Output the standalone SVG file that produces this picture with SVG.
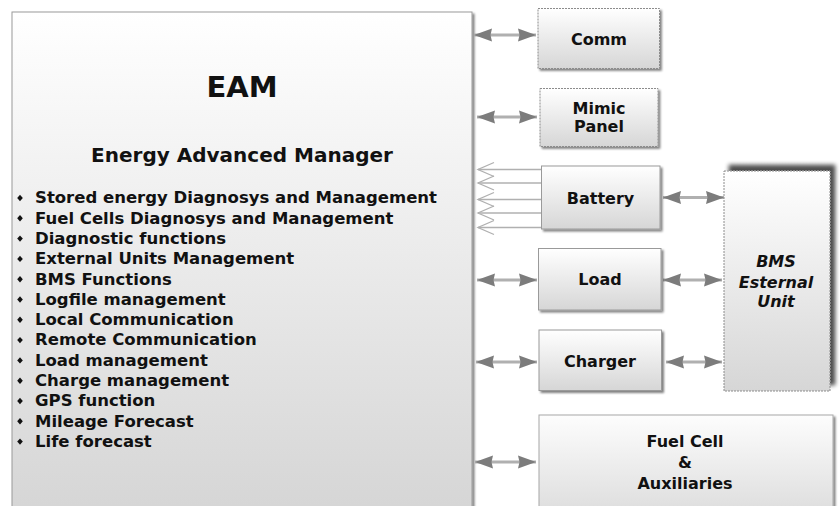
<svg xmlns="http://www.w3.org/2000/svg" width="840" height="506" viewBox="0 0 840 506">
  <defs>
    <style>
      text { font-family: "DejaVu Sans", Verdana, "Liberation Sans", sans-serif; font-weight: bold; fill: #111; }
      .title { font-size: 29px; text-anchor: middle; }
      .subtitle { font-size: 20px; text-anchor: middle; }
      .item { font-size: 16.5px; }
      .label { font-size: 16px; text-anchor: middle; }
      .italic { font-style: italic; }
      .box { fill: url(#boxFill); stroke: #9a9a9a; stroke-width: 1; }
      .dashed { stroke-dasharray: 2 1; stroke: #8c8c8c; }
      .link { stroke: #b0b0b0; stroke-width: 3; fill: none; marker-start: url(#head); marker-end: url(#head); }
      .bus { stroke: #b0b0b0; stroke-width: 1.3; fill: none; }
    </style>
    <linearGradient id="boxFill" x1="0" y1="0" x2="0" y2="1">
      <stop offset="0" stop-color="#ffffff"/>
      <stop offset="1" stop-color="#d6d6d6"/>
    </linearGradient>
    <linearGradient id="eamFill" gradientUnits="userSpaceOnUse" x1="0" y1="12" x2="0" y2="506">
      <stop offset="0" stop-color="#ffffff"/>
      <stop offset="1" stop-color="#d6d6d6"/>
    </linearGradient>
    <linearGradient id="fuelFill" gradientUnits="userSpaceOnUse" x1="0" y1="415" x2="0" y2="530">
      <stop offset="0" stop-color="#fdfdfd"/>
      <stop offset="1" stop-color="#d8d8d8"/>
    </linearGradient>
    <filter id="shadow" x="-10%" y="-10%" width="130%" height="130%">
      <feGaussianBlur in="SourceAlpha" stdDeviation="1.3"/>
      <feOffset dx="2" dy="2" result="blur"/>
      <feComponentTransfer><feFuncA type="linear" slope="0.5"/></feComponentTransfer>
      <feMerge><feMergeNode/><feMergeNode in="SourceGraphic"/></feMerge>
    </filter>
    <filter id="shadowUp" x="-20%" y="-20%" width="140%" height="140%">
      <feGaussianBlur in="SourceAlpha" stdDeviation="2.2"/>
      <feOffset dx="5" dy="-6"/>
      <feComponentTransfer><feFuncA type="linear" slope="0.7"/></feComponentTransfer>
      <feMerge><feMergeNode/><feMergeNode in="SourceGraphic"/></feMerge>
    </filter>
    <marker id="head" markerUnits="userSpaceOnUse" markerWidth="19" markerHeight="14" refX="18" refY="7" orient="auto-start-reverse">
      <path d="M0,0.5 L18,7 L0,13.5 L1.5,7 Z" fill="#7c7c7c"/>
    </marker>
    <path id="bullet" d="M0,-3.2 L2.8,0 L0,3.2 L-2.8,0 Z" fill="#111"/>
    <path id="chevron" d="M494,-7 L478,0 L494,7" fill="none" stroke="#b0b0b0" stroke-width="1.3"/>
  </defs>

  <!-- main controller block -->
  <g id="eam">
    <rect x="12" y="12" width="460" height="510" fill="url(#eamFill)" stroke="#9a9a9a" filter="url(#shadow)"/>
    <text class="title" x="242" y="97">EAM</text>
    <text class="subtitle" x="242" y="162">Energy Advanced Manager</text>
    <g>
      <use href="#bullet" x="20" y="198"/>
      <use href="#bullet" x="20" y="218.3"/>
      <use href="#bullet" x="20" y="238.6"/>
      <use href="#bullet" x="20" y="258.9"/>
      <use href="#bullet" x="20" y="279.2"/>
      <use href="#bullet" x="20" y="299.5"/>
      <use href="#bullet" x="20" y="319.8"/>
      <use href="#bullet" x="20" y="340.1"/>
      <use href="#bullet" x="20" y="360.4"/>
      <use href="#bullet" x="20" y="380.7"/>
      <use href="#bullet" x="20" y="401"/>
      <use href="#bullet" x="20" y="421.3"/>
      <use href="#bullet" x="20" y="441.6"/>
    </g>
    <text class="item" x="35" y="203.3">Stored energy Diagnosys and Management</text>
    <text class="item" x="35" y="223.6">Fuel Cells Diagnosys and Management</text>
    <text class="item" x="35" y="243.9">Diagnostic functions</text>
    <text class="item" x="35" y="264.2">External Units Management</text>
    <text class="item" x="35" y="284.5">BMS Functions</text>
    <text class="item" x="35" y="304.8">Logfile management</text>
    <text class="item" x="35" y="325.1">Local Communication</text>
    <text class="item" x="35" y="345.4">Remote Communication</text>
    <text class="item" x="35" y="365.7">Load management</text>
    <text class="item" x="35" y="386">Charge management</text>
    <text class="item" x="35" y="406.3">GPS function</text>
    <text class="item" x="35" y="426.6">Mileage Forecast</text>
    <text class="item" x="35" y="446.9">Life forecast</text>
  </g>

  <!-- connectors -->
  <g id="connectors">
    <line class="link" x1="474" y1="35" x2="536" y2="35"/>
    <line class="link" x1="477" y1="117" x2="537" y2="117"/>
    <line class="link" x1="477" y1="280" x2="537" y2="280"/>
    <line class="link" x1="476" y1="362" x2="537" y2="362"/>
    <line class="link" x1="475" y1="462" x2="536" y2="462"/>
    <line class="link" x1="663" y1="197.5" x2="724" y2="197.5"/>
    <line class="link" x1="663" y1="280" x2="722" y2="280"/>
    <line class="link" x1="666" y1="362" x2="722" y2="362"/>
    <!-- battery cell bus -->
    <g>
      <line class="bus" x1="478" y1="169.5" x2="541" y2="169.5"/>
      <line class="bus" x1="478" y1="183" x2="541" y2="183"/>
      <line class="bus" x1="478" y1="199.5" x2="541" y2="199.5"/>
      <line class="bus" x1="478" y1="213" x2="541" y2="213"/>
      <line class="bus" x1="478" y1="227.5" x2="541" y2="227.5"/>
      <use href="#chevron" y="169.5"/>
      <use href="#chevron" y="183"/>
      <use href="#chevron" y="199.5"/>
      <use href="#chevron" y="213"/>
      <use href="#chevron" y="227.5"/>
    </g>
  </g>

  <g id="comm">
    <rect class="box dashed" x="538" y="8.5" width="121.5" height="60" filter="url(#shadow)"/>
    <text class="label" x="599" y="45">Comm</text>
  </g>

  <g id="mimic-panel">
    <rect class="box dashed" x="540" y="88.5" width="118" height="58" filter="url(#shadow)"/>
    <text class="label" x="599" y="113.5">Mimic</text>
    <text class="label" x="599" y="132">Panel</text>
  </g>

  <g id="battery">
    <rect class="box" x="541.5" y="166" width="118.5" height="63" filter="url(#shadow)"/>
    <text class="label" x="600.5" y="203.5">Battery</text>
  </g>

  <g id="load">
    <rect class="box" x="538.5" y="248.5" width="122.5" height="61.5" filter="url(#shadow)"/>
    <text class="label" x="600" y="285">Load</text>
  </g>

  <g id="charger">
    <rect class="box" x="539" y="330" width="122.5" height="60.5" filter="url(#shadow)"/>
    <text class="label" x="600" y="367">Charger</text>
  </g>

  <g id="bms-unit">
    <rect class="box dashed" x="724" y="171" width="106" height="220" filter="url(#shadowUp)"/>
    <text class="label italic" x="776" y="267">BMS</text>
    <text class="label italic" x="776" y="288">Esternal</text>
    <text class="label italic" x="776" y="307">Unit</text>
  </g>

  <g id="fuel-cell">
    <rect x="539" y="415" width="294" height="110" fill="url(#fuelFill)" stroke="#a8a8a8" filter="url(#shadow)"/>
    <text class="label" x="685" y="447">Fuel Cell</text>
    <text class="label" x="685" y="468">&amp;</text>
    <text class="label" x="685" y="488.5">Auxiliaries</text>
  </g>
</svg>
